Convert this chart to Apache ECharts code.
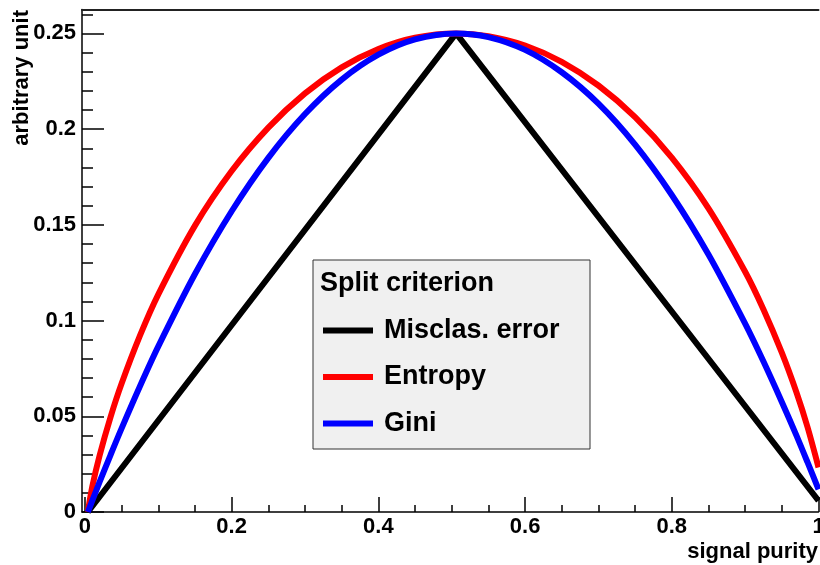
<!DOCTYPE html>
<html><head><meta charset="utf-8">
<script src="https://cdn.jsdelivr.net/npm/echarts@6/dist/echarts.min.js"></script>
<style>html,body{margin:0;padding:0;background:#fff}#c{width:820px;height:565px}</style>
</head><body><div id="c"></div>
<script>
// signal purity sample positions (x)
const purity = [0.004,0.01,0.02,0.035,0.05,0.075,0.1,0.15,0.2,0.25,0.3,0.35,0.4,0.45,0.506,0.55,0.6,0.65,0.7,0.75,0.8,0.85,0.9,0.925,0.95,0.97,0.985,1.0];
const gini = [0,0.0059,0.0157,0.0299,0.0437,0.0657,0.0865,0.1243,0.1571,0.1850,0.2079,0.2259,0.2389,0.2469,0.25,0.2481,0.2414,0.2297,0.2133,0.1919,0.1656,0.1345,0.0984,0.0786,0.0575,0.0399,0.0260,0.0118];
const entropy = [0,0.0132,0.0295,0.0497,0.0671,0.0921,0.1137,0.1496,0.1781,0.2008,0.2187,0.2323,0.2419,0.2478,0.25,0.2486,0.2437,0.2352,0.2228,0.2063,0.1851,0.1586,0.1255,0.1058,0.0832,0.0624,0.0444,0.0233];
const misclasX = [0.004,0.506,1.0];
const misclas = [0,0.25,0.0059];

const xMajorTicks = [0,0.2,0.4,0.6,0.8,1];
const xMinorTicks = [0.05,0.1,0.15,0.25,0.3,0.35,0.45,0.5,0.55,0.65,0.7,0.75,0.85,0.9,0.95];
const yMajorTicks = [0,0.05,0.1,0.15,0.2,0.25];
const yMinorTicks = [0.01,0.02,0.03,0.04,0.06,0.07,0.08,0.09,0.11,0.12,0.13,0.14,0.16,0.17,0.18,0.19,0.21,0.22,0.23,0.24,0.26];

const seriesNames = ['Misclas. error','Entropy','Gini'];
const seriesColors = ['#000000','#ff0000','#0000ff'];
const legendTitle = 'Split criterion';
const xTitle = 'signal purity';
const yTitle = 'arbitrary unit';

const FONT = '"Liberation Sans", Arial, Helvetica, sans-serif';
const zip = (xs, ys) => xs.map((x, i) => [x, ys[i]]);

const chart = echarts.init(document.getElementById('c'), null, {renderer: 'canvas'});
const X_MIN = -0.004, X_MAX = 1, Y_MIN = 0, Y_MAX = 0.2625;

const labelStyle = {fontFamily: FONT, fontSize: 22, fontWeight: 'bold', color: '#000'};

const legendTops = [317, 363.5, 410];

chart.setOption({
  animation: false,
  backgroundColor: '#ffffff',
  grid: {left: 82, right: 1.5, top: 9.5, bottom: 53, containLabel: false, outerBoundsMode: 'none'},
  xAxis: [
    {type: 'value', min: X_MIN, max: X_MAX, position: 'bottom',
     axisLine: {show: true, onZero: false, lineStyle: {color: '#000', width: 1.5}},
     axisTick: {show: true, inside: true, length: 15, customValues: xMajorTicks, lineStyle: {color: '#000', width: 1.5}},
     axisLabel: Object.assign({show: true, margin: 4, customValues: xMajorTicks, hideOverlap: false}, labelStyle),
     splitLine: {show: false}},
    {type: 'value', min: X_MIN, max: X_MAX, position: 'bottom',
     axisLine: {show: false, onZero: false},
     axisTick: {show: true, inside: true, length: 7, customValues: xMinorTicks, lineStyle: {color: '#000', width: 1.5}},
     axisLabel: {show: false}, splitLine: {show: false}},
    {type: 'value', min: X_MIN, max: X_MAX, position: 'top',
     axisLine: {show: true, onZero: false, lineStyle: {color: '#222', width: 2}},
     axisTick: {show: false}, axisLabel: {show: false}, splitLine: {show: false}}
  ],
  yAxis: [
    {type: 'value', min: Y_MIN, max: Y_MAX, position: 'left',
     axisLine: {show: true, onZero: false, lineStyle: {color: '#000', width: 1.5}},
     axisTick: {show: true, inside: true, length: 22, customValues: yMajorTicks, lineStyle: {color: '#000', width: 1.5}},
     axisLabel: Object.assign({show: true, margin: 6, customValues: yMajorTicks}, labelStyle),
     splitLine: {show: false}},
    {type: 'value', min: Y_MIN, max: Y_MAX, position: 'left',
     axisLine: {show: false, onZero: false},
     axisTick: {show: true, inside: true, length: 11, customValues: yMinorTicks, lineStyle: {color: '#000', width: 1.5}},
     axisLabel: {show: false}, splitLine: {show: false}}
  ],
  legend: seriesNames.map((n, i) => ({
    data: [n], left: 323, top: legendTops[i], orient: 'vertical', padding: 0, z: 20,
    icon: 'rect', itemWidth: 50, itemHeight: 6, selectedMode: false,
    textStyle: {fontFamily: FONT, fontSize: 27, fontWeight: 'bold', color: '#000', padding: [0, 0, 0, 6]}
  })),
  graphic: [
    {type: 'rect', z: 1, shape: {x: 313, y: 260, width: 277, height: 189},
     style: {fill: '#f0f0f0', stroke: '#333', lineWidth: 1}},
    {type: 'text', z: 11, x: 320, y: 284,
     style: {text: legendTitle, fontFamily: FONT, fontSize: 27, fontWeight: 'bold', fill: '#000', align: 'left', verticalAlign: 'middle'}},
    {type: 'text', z: 11, x: 818, y: 552,
     style: {text: xTitle, fontFamily: FONT, fontSize: 22, fontWeight: 'bold', fill: '#000', align: 'right', verticalAlign: 'middle'}},
    {type: 'text', z: 11, x: 22, y: 10, rotation: Math.PI / 2,
     style: {text: yTitle, fontFamily: FONT, fontSize: 22, fontWeight: 'bold', fill: '#000', align: 'right', verticalAlign: 'middle'}}
  ],
  series: [
    {name: seriesNames[0], type: 'line', xAxisIndex: 0, yAxisIndex: 0, data: zip(misclasX, misclas),
     showSymbol: false, smooth: false, color: seriesColors[0], lineStyle: {color: seriesColors[0], width: 6}, z: 2},
    {name: seriesNames[1], type: 'line', xAxisIndex: 0, yAxisIndex: 0, data: zip(purity, entropy),
     showSymbol: false, smooth: 0.3, color: seriesColors[1], lineStyle: {color: seriesColors[1], width: 6}, z: 3},
    {name: seriesNames[2], type: 'line', xAxisIndex: 0, yAxisIndex: 0, data: zip(purity, gini),
     showSymbol: false, smooth: 0.3, color: seriesColors[2], lineStyle: {color: seriesColors[2], width: 6}, z: 4}
  ]
});
</script>
</body></html>
